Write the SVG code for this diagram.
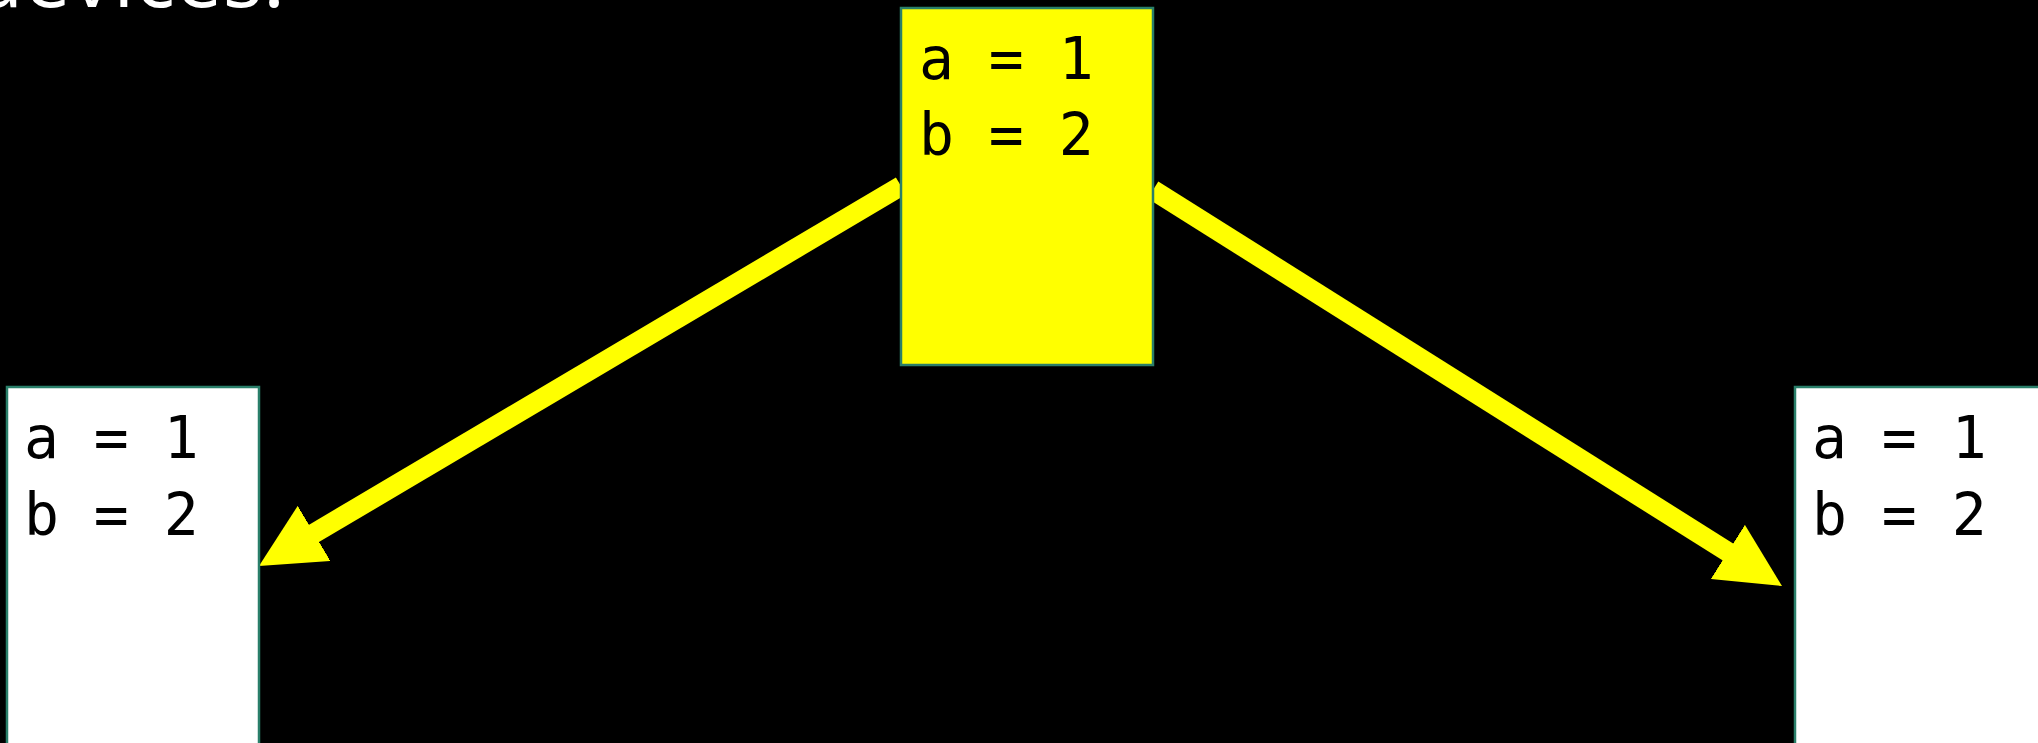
<svg xmlns="http://www.w3.org/2000/svg" width="2038" height="743" viewBox="0 0 2038 743">
<defs>
<style>
.node rect{stroke:#2a7f6a;stroke-width:2.5}
#src rect{fill:#ffff00}
#dst1 rect,#dst2 rect{fill:#ffffff}
.code{font-family:"DejaVu Sans Mono","Liberation Mono",monospace;font-size:58px;fill:#000}
.title{font-family:"Open Sans","Liberation Sans",sans-serif;font-size:84px;fill:#fff}
.arrow{stroke:#ffff00;stroke-width:20;fill:none;marker-end:url(#head)}
</style>
<marker id="head" markerUnits="userSpaceOnUse" viewBox="0 0 64 64" markerWidth="64" markerHeight="64" refX="14" refY="32" orient="auto"><path d="M0,0 L64,32 L0,64 z" fill="#ffff00"/></marker>
</defs>
<rect x="0" y="0" width="2038" height="743" fill="#000"/>
<text class="title" x="-28" y="7" textLength="313" lengthAdjust="spacing">devices.</text>
<g id="connectors">
<line class="arrow" x1="901" y1="186" x2="302" y2="540.5"/>
<line class="arrow" x1="1153" y1="190" x2="1739.7" y2="559.4"/>
</g>
<g id="src" class="node">
<rect x="901" y="8" width="252" height="357"/>
<text class="code" x="919" y="79">a = 1</text>
<text class="code" x="919" y="155">b = 2</text>
</g>
<g id="dst1" class="node">
<rect x="7" y="387" width="252" height="360"/>
<text class="code" x="24" y="458">a = 1</text>
<text class="code" x="24" y="535">b = 2</text>
</g>
<g id="dst2" class="node">
<rect x="1795" y="387" width="252" height="360"/>
<text class="code" x="1812" y="458">a = 1</text>
<text class="code" x="1812" y="535">b = 2</text>
</g>
</svg>
